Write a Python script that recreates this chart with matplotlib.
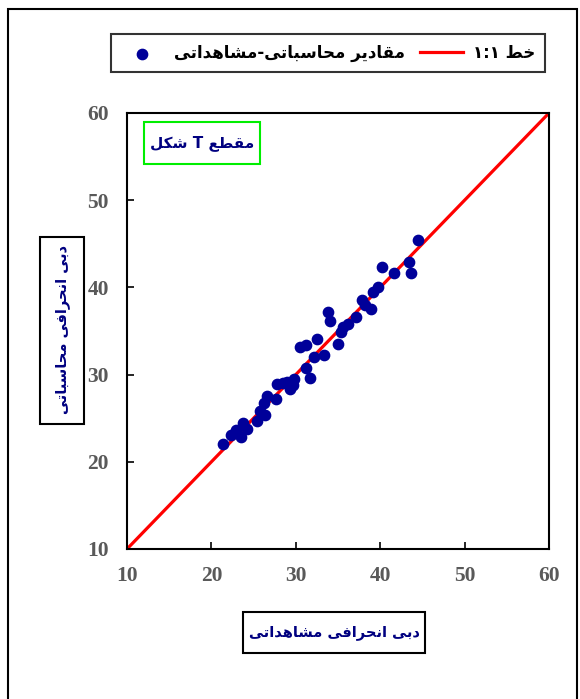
import matplotlib
matplotlib.use('Agg')
import matplotlib.pyplot as plt
from matplotlib.patches import Rectangle

# observed vs computed discharge
observed = [21.4, 22.3, 22.9, 23.5, 23.7, 24.2, 25.4, 25.8, 26.3, 26.2, 26.6, 27.6,
            27.8, 28.5, 29.0, 29.3, 29.8, 29.7, 30.5, 31.2, 32.5, 31.2, 31.7, 32.1,
            33.4, 33.8, 34.1, 35.0, 35.4, 35.6, 36.2, 37.1, 37.8, 38.2, 38.9, 39.1,
            39.7, 40.2, 41.6, 43.4, 43.7, 44.5]
computed = [22.0, 23.1, 23.6, 22.8, 24.4, 23.8, 24.7, 25.8, 25.4, 26.7, 27.5, 27.2,
            28.9, 29.0, 29.2, 28.4, 29.5, 28.8, 33.2, 33.4, 34.1, 30.8, 29.6, 32.0,
            32.2, 37.2, 36.2, 33.5, 34.9, 35.5, 35.8, 36.6, 38.6, 38.0, 37.5, 39.5,
            40.1, 42.3, 41.6, 42.9, 41.7, 45.4]
line_11 = [10, 60]
ticks = [10, 20, 30, 40, 50, 60]

# crude arabic shaping: (isolated, final, initial, medial)
FORMS = {
    'ا': ('\uFE8D', '\uFE8E', None, None),
    'د': ('\uFEA9', '\uFEAA', None, None),
    'ر': ('\uFEAD', '\uFEAE', None, None),
    'م': ('\uFEE1', '\uFEE2', '\uFEE3', '\uFEE4'),
    'ق': ('\uFED5', '\uFED6', '\uFED7', '\uFED8'),
    'ی': ('\uFBFC', '\uFBFD', '\uFBFE', '\uFBFF'),
    'ح': ('\uFEA1', '\uFEA2', '\uFEA3', '\uFEA4'),
    'س': ('\uFEB1', '\uFEB2', '\uFEB3', '\uFEB4'),
    'ب': ('\uFE8F', '\uFE90', '\uFE91', '\uFE92'),
    'ت': ('\uFE95', '\uFE96', '\uFE97', '\uFE98'),
    'ش': ('\uFEB5', '\uFEB6', '\uFEB7', '\uFEB8'),
    'ه': ('\uFEE9', '\uFEEA', '\uFEEB', '\uFEEC'),
    'خ': ('\uFEA5', '\uFEA6', '\uFEA7', '\uFEA8'),
    'ط': ('\uFEC1', '\uFEC2', '\uFEC3', '\uFEC4'),
    'ع': ('\uFEC9', '\uFECA', '\uFECB', '\uFECC'),
    'ک': ('\uFB8E', '\uFB8F', '\uFB90', '\uFB91'),
    'ل': ('\uFEDD', '\uFEDE', '\uFEDF', '\uFEE0'),
    'ن': ('\uFEE5', '\uFEE6', '\uFEE7', '\uFEE8'),
    'ف': ('\uFED1', '\uFED2', '\uFED3', '\uFED4'),
}


def fa(s):
    out = []
    for i, c in enumerate(s):
        if c not in FORMS:
            out.append(c)
            continue
        f = FORMS[c]
        prev = s[i - 1] if i > 0 else ''
        nxt = s[i + 1] if i + 1 < len(s) else ''
        jp = prev in FORMS and FORMS[prev][2] is not None
        jn = nxt in FORMS and f[2] is not None
        if jp and jn:
            out.append(f[3])
        elif jp:
            out.append(f[1])
        elif jn:
            out.append(f[2])
        else:
            out.append(f[0])
    return ''.join(out)[::-1]


navy = '#000080'
grey = '#595959'
W, H = 580, 699


def box(x0, y0, x1, y1, color='black'):
    # rectangle given in pixel coords from the top-left
    fig.patches.append(Rectangle((x0 / W, 1 - y1 / H), (x1 - x0) / W, (y1 - y0) / H,
                                 transform=fig.transFigure, fc='white', ec=color, lw=1.5, zorder=5))


fig = plt.figure(figsize=(5.8, 6.99), dpi=100)

# outer frame
fig.patches.append(Rectangle((8 / W, -0.01), 569 / W, 1 - 9 / H + 0.01, transform=fig.transFigure,
                             fill=False, edgecolor='black', linewidth=1.5))

ax = fig.add_axes([127 / W, 1 - 549 / H, 422 / W, 436 / H])
ax.plot(line_11, line_11, color='#FF0000', linewidth=2.3, label=fa('خط ۱:۱'), zorder=2)
ax.scatter(observed, computed, s=55, color='#000099', zorder=3, label=fa('مقادیر محاسباتی-مشاهداتی'))
ax.set_xlim(10, 60)
ax.set_ylim(10, 60)
ax.set_xticks(ticks)
ax.set_yticks(ticks)
ax.tick_params(direction='in', length=5, width=1.2, colors='black')
ax.tick_params(axis='x', pad=12)
ax.tick_params(axis='y', pad=13)
for lab in ax.get_xticklabels() + ax.get_yticklabels():
    lab.set_family('Liberation Serif')
    lab.set_fontweight('bold')
    lab.set_fontsize(15.5)
    lab.set_color(grey)
for sp in ax.spines.values():
    sp.set_linewidth(1.5)

# section name box
box(144, 122, 260, 164, color='#00EE00')
fig.text(202 / W, 1 - 143 / H, fa('مقطع T شکل'), ha='center', va='center',
         fontsize=11, fontweight='bold', color=navy, zorder=6)

# axis label boxes
box(243, 612, 425, 653)
fig.text(334 / W, 1 - 632 / H, fa('دبی انحرافی مشاهداتی'), ha='center', va='center',
         fontsize=10.5, fontweight='bold', color=navy, zorder=6)
box(40, 237, 84, 424)
fig.text(62 / W, 1 - 330 / H, fa('دبی انحرافی محاسباتی'), ha='center', va='center', rotation=90,
         fontsize=10.5, fontweight='bold', color=navy, zorder=6)

h, l = ax.get_legend_handles_labels()
leg = fig.legend([h[1], h[0]], [l[1], l[0]], ncol=2, loc='center',
                 bbox_to_anchor=(328 / W, 1 - 53 / H), frameon=True, fancybox=False,
                 edgecolor='black', prop={'weight': 'bold', 'size': 12},
                 handlelength=2.6, columnspacing=0.9, borderpad=0.6, handletextpad=0.6)
leg.get_frame().set_linewidth(1.5)

fig.savefig('out.png', dpi=100)
